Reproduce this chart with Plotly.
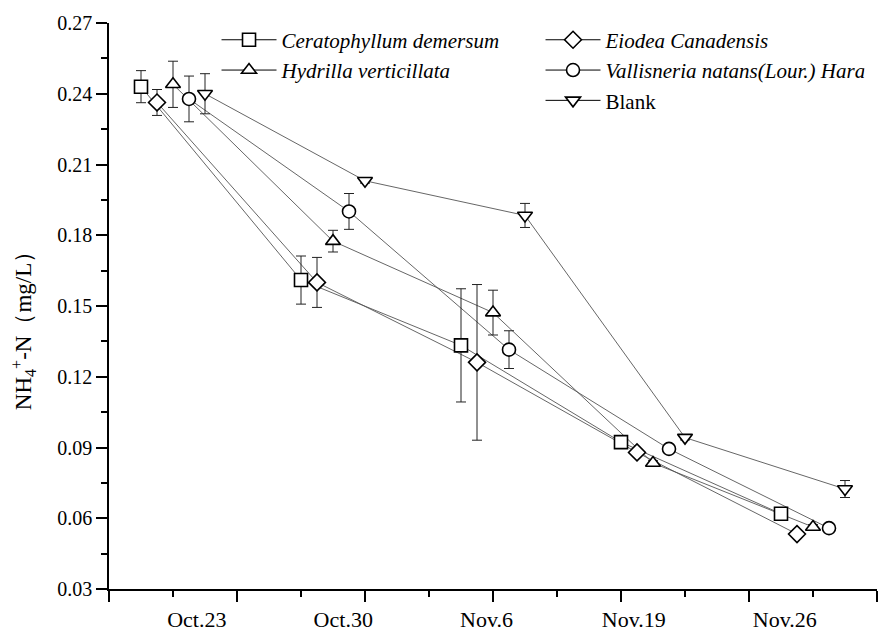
import plotly.graph_objects as go

# ---- data ----
dates = ["Oct.23", "Oct.30", "Nov.6", "Nov.19", "Nov.26"]
date_label_pos = [0.686, 1.830, 2.950, 4.100, 5.280]
major_tick_pos = [0, 1, 2, 3, 4, 5, 6]
group_x = [0.5, 1.75, 3.0, 4.25, 5.5]

series_names = [
    "<i>Ceratophyllum demersum</i>",
    "<i>Eiodea Canadensis</i>",
    "<i>Hydrilla verticillata</i>",
    "<i>Vallisneria natans(Lour.) Hara</i>",
    "Blank",
]
series_symbols = ["square", "diamond", "triangle-up", "circle", "triangle-down"]
series_offset = [-0.25, -0.125, 0.0, 0.125, 0.25]

cerato = [0.2430, 0.1610, 0.1333, 0.0923, 0.0619]
cerato_err = [0.0068, 0.0102, 0.0240, 0.0010, 0.0010]
eiodea = [0.2363, 0.1600, 0.1261, 0.0879, 0.0533]
eiodea_err = [0.0055, 0.0106, 0.0330, 0.0010, 0.0010]
hydrilla = [0.2440, 0.1775, 0.1472, 0.0834, 0.0563]
hydrilla_err = [0.0098, 0.0046, 0.0095, 0.0010, 0.0010]
valli = [0.2378, 0.1901, 0.1315, 0.0894, 0.0558]
valli_err = [0.0097, 0.0076, 0.0080, 0.0010, 0.0010]
blank = [0.2400, 0.2031, 0.1884, 0.0942, 0.0724]
blank_err = [0.0085, 0.0010, 0.0051, 0.0010, 0.0036]

series_vals = [cerato, eiodea, hydrilla, valli, blank]
series_errs = [cerato_err, eiodea_err, hydrilla_err, valli_err, blank_err]

yticks = [0.03, 0.06, 0.09, 0.12, 0.15, 0.18, 0.21, 0.24, 0.27]

FONT = "Liberation Serif, Times New Roman, serif"
LINE_COL = "#555555"

fig = go.Figure()

# connecting lines first
for vals, off in zip(series_vals, series_offset):
    fig.add_trace(go.Scatter(
        x=[g + off for g in group_x], y=vals, mode="lines",
        line=dict(color=LINE_COL, width=0.9), showlegend=False, hoverinfo="skip"))

# markers with error bars
for vals, errs, off, sym in zip(series_vals, series_errs, series_offset, series_symbols):
    fig.add_trace(go.Scatter(
        x=[g + off for g in group_x], y=vals, mode="markers",
        marker=dict(symbol=sym, size=13, color="white",
                    line=dict(color="black", width=1.6)),
        error_y=dict(type="data", array=errs, visible=True, color="#222222",
                     thickness=1, width=5),
        showlegend=False))

# legend-only traces (with a blank placeholder so "Blank" sits in the second column)
legend_order = [0, 1, 2, 3, None, 4]
for idx in legend_order:
    if idx is None:
        fig.add_trace(go.Scatter(
            x=[None], y=[None], mode="lines", name=" ",
            line=dict(color="rgba(0,0,0,0)", width=0), showlegend=True, hoverinfo="skip"))
    else:
        fig.add_trace(go.Scatter(
            x=[None], y=[None], mode="lines+markers", name=series_names[idx],
            line=dict(color="black", width=1),
            marker=dict(symbol=series_symbols[idx], size=13,
                        color="white", line=dict(color="black", width=1.6)),
            showlegend=True))

# invisible trace on the label axis so it renders
fig.add_trace(go.Scatter(x=[None], y=[None], xaxis="x2", showlegend=False, hoverinfo="skip"))

fig.update_layout(
    width=893, height=636,
    margin=dict(l=109, r=16, t=23, b=47, autoexpand=False),
    paper_bgcolor="white", plot_bgcolor="white",
    font=dict(family=FONT, size=19, color="black"),
    showlegend=True,
    legend=dict(
        orientation="h", x=0.14, y=1.006, xanchor="left", yanchor="top",
        entrywidth=254, entrywidthmode="pixels", itemwidth=55,
        font=dict(family=FONT, size=21, color="black"),
        bgcolor="rgba(0,0,0,0)", tracegroupgap=0, traceorder="normal",
        itemclick=False,
    ),
    xaxis=dict(
        range=[0, 6], showgrid=False, zeroline=False, automargin=False,
        showline=True, linecolor="black", linewidth=1.5, mirror=False,
        tickmode="array", tickvals=major_tick_pos, ticktext=[""] * len(major_tick_pos),
        ticks="outside", ticklen=11, tickwidth=1.5, tickcolor="black",
        minor=dict(dtick=0.5, tick0=0, ticks="outside", ticklen=6, tickwidth=1.5, tickcolor="black"),
    ),
    xaxis2=dict(
        range=[0, 6], overlaying="x", side="bottom", anchor="y", automargin=False,
        showgrid=False, zeroline=False, showline=False,
        tickmode="array", tickvals=date_label_pos, ticktext=dates,
        ticks="outside", ticklen=11, tickcolor="rgba(0,0,0,0)",
        tickfont=dict(family=FONT, size=22),
    ),
    yaxis=dict(
        range=[0.03, 0.27], showgrid=False, zeroline=False, automargin=False,
        showline=True, linecolor="black", linewidth=1.5, mirror=False,
        tickmode="array", tickvals=yticks, ticktext=[f"{v:.2f}" for v in yticks],
        ticks="outside", ticklen=11, tickwidth=1.5, tickcolor="black",
        minor=dict(dtick=0.015, tick0=0.03, ticks="outside", ticklen=6, tickwidth=1.5, tickcolor="black"),
        tickfont=dict(family=FONT, size=20),
    ),
    annotations=[dict(
        text="NH<sub>4</sub><sup>+</sup>-N（mg/L）",
        xref="paper", yref="paper", x=-0.112, y=0.466,
        xanchor="center", yanchor="middle", textangle=-90, showarrow=False,
        font=dict(family=FONT, size=23, color="black"),
    )],
)

fig.write_html("out.html")
